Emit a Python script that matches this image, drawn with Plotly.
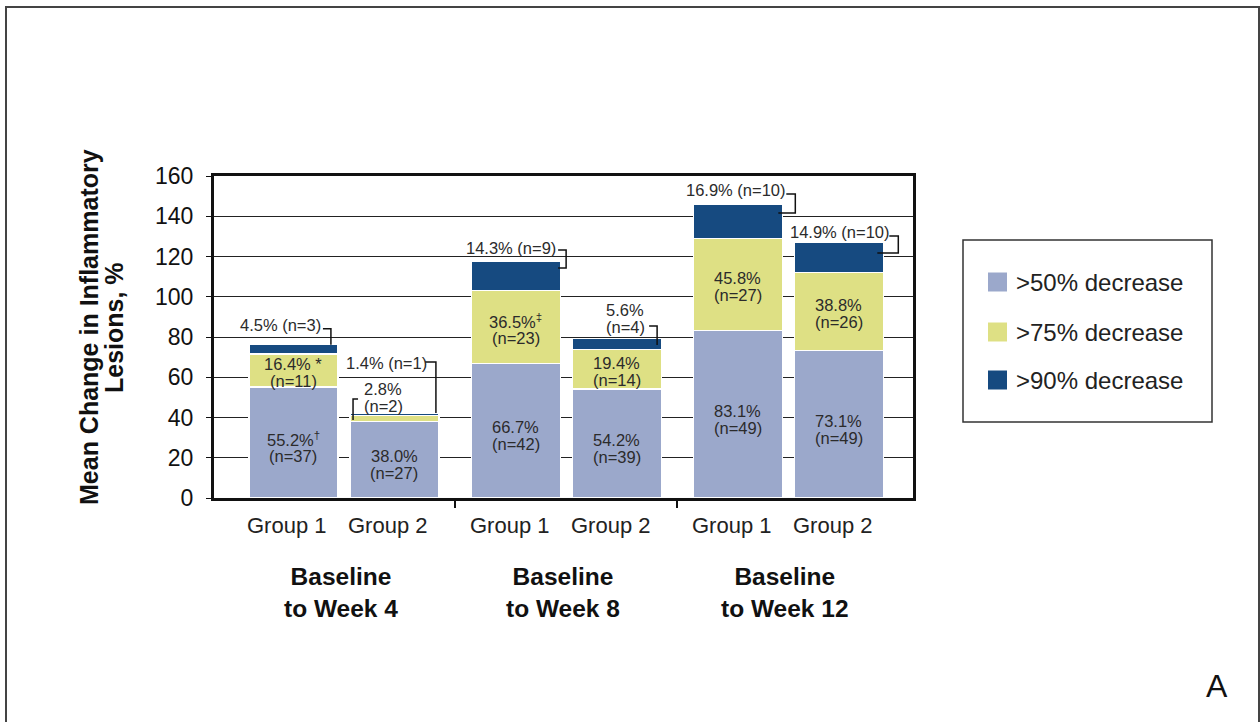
import plotly.graph_objects as go

# ---------------- data ----------------
periods = ["Baseline<br>to Week 4", "Baseline<br>to Week 8", "Baseline<br>to Week 12"]
groups = ["Group 1", "Group 2"]
series_names = [">50% decrease", ">75% decrease", ">90% decrease"]
pct50 = [55.2, 38.0, 66.7, 54.2, 83.1, 73.1]
pct75 = [16.4, 2.8, 36.5, 19.4, 45.8, 38.8]
pct90 = [4.5, 1.4, 14.3, 5.6, 16.9, 14.9]
n50 = [37, 27, 42, 39, 49, 49]
n75 = [11, 2, 23, 14, 27, 26]
n90 = [3, 1, 9, 4, 10, 10]
marks50 = ["<sup>†</sup>", "", "", "", "", ""]
marks75 = [" *", "", "<sup>‡</sup>", "", "", ""]
y_ticks = [0, 20, 40, 60, 80, 100, 120, 140, 160]

# ---------------- style / layout ----------------
colors = ["#9BA8CB", "#DEE084", "#164A80"]
W, H = 1260, 722
L, R, T, B = 214, 347, 176, 224
PW, PH = W - L - R, H - T - B
X_RANGE = [-0.787, 6.134]
Y_RANGE = [0, 160]
BAR_W = 0.88
SX = PW / (X_RANGE[1] - X_RANGE[0])   # px per x unit
SY = PH / (Y_RANGE[1] - Y_RANGE[0])   # px per y unit
FONT = "Liberation Sans, Arial, sans-serif"
TXT = "#2b2b2b"

def pxx(p):  # pixel -> paper x
    return (p - L) / PW

def pxy(p):  # pixel -> paper y
    return (H - B - p) / PH

xpos = [g * 2.2 + j for g in range(3) for j in range(2)]
totals = [a + b + c for a, b, c in zip(pct50, pct75, pct90)]

fig = go.Figure()
for vals, col, name in zip([pct50, pct75, pct90], colors, series_names):
    fig.add_trace(go.Bar(
        x=xpos, y=vals, width=BAR_W, name=name,
        marker=dict(color=col, line=dict(color="white", width=1.2)),
        showlegend=False, hoverinfo="y+name",
    ))

ann = []
shapes = []

def two_lines(lines, x, y, base_shift, size=16.5, xanchor="center", xshift=0, gap=17):
    n = len(lines)
    for k, t in enumerate(lines):
        off = (n - 1) / 2 * gap - k * gap
        ann.append(dict(x=x, y=y, xref="x", yref="y", text=t, showarrow=False,
                        xanchor=xanchor, yanchor="middle", xshift=xshift,
                        yshift=base_shift + off,
                        font=dict(family=FONT, size=size, color=TXT)))

# inner labels
for i in range(6):
    two_lines([f"{pct50[i]:.1f}%{marks50[i]}", f"(n={n50[i]})"], xpos[i], pct50[i] / 2, -5)
    if i != 1:
        two_lines([f"{pct75[i]:.1f}%{marks75[i]}", f"(n={n75[i]})"], xpos[i],
                  pct50[i] + pct75[i] / 2, -2)

# outside (>90%) labels: offsets in screen pixels relative to bar top-right corner
outside = [
    dict(i=0, lab=(-57, -20), two=False, path=[(-15, -16), (-7, -16), (-7, 0)]),
    dict(i=1, lab=(-52, -50), two=False, path=[(-14, -51), (-3, -51), (-3, 0)]),
    dict(i=2, lab=(-49, -13.5), two=False, path=[(-2, -11.5), (6, -11.5), (6, 6.5), (-2, 6.5)]),
    dict(i=3, lab=(-36, -20.6), two=True, path=[(-12, -12.6), (-4, -12.6), (-4, 6.4)]),
    dict(i=4, lab=(-46, -14.6), two=False, path=[(4, -10.6), (13, -10.6), (13, 8.4), (-4, 8.4)]),
    dict(i=5, lab=(-43, -10.8), two=False, path=[(6, -6.8), (15, -6.8), (15, 10.2), (-6, 10.2)]),
]

def make_path(x0, y0, pts):
    segs = []
    for k, (dx, dy) in enumerate(pts):
        segs.append(("M" if k == 0 else "L") + f"{x0 + dx / SX:.4f},{y0 - dy / SY:.4f}")
    return " ".join(segs)

for o in outside:
    i = o["i"]
    xr = xpos[i] + BAR_W / 2
    top = totals[i]
    if o["two"]:
        lines = [f"{pct90[i]:.1f}%", f"(n={n90[i]})"]
    else:
        lines = [f"{pct90[i]:.1f}% (n={n90[i]})"]
    two_lines(lines, xr, top, -o["lab"][1], xshift=o["lab"][0])
    shapes.append(dict(type="path", xref="x", yref="y", path=make_path(xr, top, o["path"]),
                       line=dict(color="#111", width=1.5)))

# the small >75% label for Group 2, week 4 (outside, left side)
i = 1
xl = xpos[i] - BAR_W / 2
ytop75 = pct50[i] + pct75[i]
two_lines([f"{pct75[i]:.1f}%", f"(n={n75[i]})"], xl, ytop75, 18, xshift=33)
shapes.append(dict(type="path", xref="x", yref="y",
                   path=make_path(xl, ytop75, [(8, -17), (3, -17), (3, 4)]),
                   line=dict(color="#111", width=1.5)))

# group labels and period labels
for g in range(3):
    for j in range(2):
        ann.append(dict(x=xpos[g * 2 + j] - 0.06, y=0, xref="x", yref="paper", text=groups[j],
                        showarrow=False, yanchor="middle", yshift=-27,
                        font=dict(family=FONT, size=22, color="#222")))
    ann.append(dict(x=(xpos[g * 2] + xpos[g * 2 + 1]) / 2 - 0.03, y=0, xref="x", yref="paper",
                    text=f"<b>{periods[g]}</b>", showarrow=False, yanchor="middle",
                    yshift=-94, font=dict(family=FONT, size=24.5, color="#111")))

# y-axis title (two lines)
for t, xp in [("Mean Change in Inflammatory", 89), ("Lesions, %", 114)]:
    ann.append(dict(x=pxx(xp), y=pxy(327), xref="paper", yref="paper", text=f"<b>{t}</b>",
                    textangle=-90, showarrow=False, xanchor="center", yanchor="middle",
                    font=dict(family=FONT, size=25, color="#111")))

# legend (drawn)
shapes.append(dict(type="rect", xref="paper", yref="paper", x0=pxx(963), x1=pxx(1212),
                   y0=pxy(240), y1=pxy(422), line=dict(color="#333", width=1.5),
                   fillcolor="white"))
for k, (name, col) in enumerate(zip(series_names, colors)):
    cy = [282, 332, 380][k]
    shapes.append(dict(type="rect", xref="paper", yref="paper", x0=pxx(988), x1=pxx(1007),
                       y0=pxy(cy - 9.5), y1=pxy(cy + 9.5), line=dict(width=0), fillcolor=col))
    ann.append(dict(x=pxx(1014), y=pxy(cy), xref="paper", yref="paper", text=name,
                    showarrow=False, xanchor="left", yanchor="middle",
                    font=dict(family=FONT, size=24, color="#222")))

# panel letter
ann.append(dict(x=pxx(1217), y=pxy(686), xref="paper", yref="paper", text="A", showarrow=False,
                xanchor="center", yanchor="middle", font=dict(family=FONT, size=32, color="#111")))

# outer figure border
shapes.append(dict(type="rect", xref="paper", yref="paper", x0=pxx(6), x1=pxx(1259),
                   y0=pxy(735), y1=pxy(7), line=dict(color="#444", width=2)))

sep_ticks = [(xpos[1] + xpos[2]) / 2, (xpos[3] + xpos[4]) / 2]

fig.update_layout(
    width=W, height=H, margin=dict(l=L, r=R, t=T, b=B, pad=0),
    paper_bgcolor="white", plot_bgcolor="white", barmode="stack",
    showlegend=False, annotations=ann, shapes=shapes,
    font=dict(family=FONT, color="#111"),
    xaxis=dict(range=X_RANGE, tickvals=sep_ticks, showticklabels=False, ticks="outside",
               ticklen=7, tickwidth=2, tickcolor="#111", showgrid=False, zeroline=False,
               showline=True, linecolor="#111", linewidth=3, mirror=True, fixedrange=True),
    yaxis=dict(range=Y_RANGE, tickvals=y_ticks, ticks="outside", ticklen=5, tickwidth=1,
               tickcolor="#111", ticklabelstandoff=8,
               tickfont=dict(family=FONT, size=23, color="#111"),
               showgrid=True, gridcolor="#222", gridwidth=1, zeroline=False,
               showline=True, linecolor="#111", linewidth=3, mirror=True, fixedrange=True),
)

fig.write_html("out.html")
